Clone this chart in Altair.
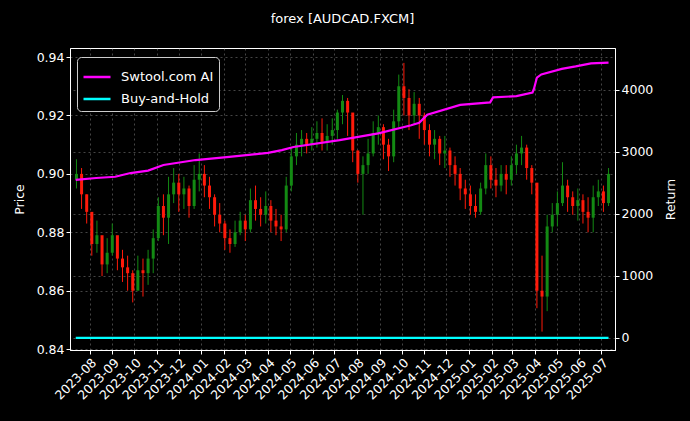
import altair as alt
import pandas as pd
import altair.utils.html as _ah

# Weekly candles (close, high, low)
week_start = "2023-07-14"
closes = [0.900, 0.893, 0.887, 0.876, 0.879, 0.869, 0.873, 0.879, 0.871, 0.868,
          0.866, 0.860, 0.867, 0.866, 0.871, 0.878, 0.889, 0.885, 0.893, 0.897,
          0.893, 0.895, 0.889, 0.898, 0.900, 0.896, 0.892, 0.886, 0.883, 0.878,
          0.876, 0.880, 0.884, 0.881, 0.891, 0.888, 0.886, 0.889, 0.884, 0.882,
          0.881, 0.896, 0.906, 0.910, 0.912, 0.910, 0.912, 0.914, 0.911, 0.913,
          0.915, 0.921, 0.925, 0.921, 0.908, 0.900, 0.903, 0.907, 0.914, 0.916,
          0.910, 0.906, 0.918, 0.930, 0.926, 0.920, 0.924, 0.920, 0.915, 0.910,
          0.912, 0.907, 0.908, 0.903, 0.900, 0.895, 0.893, 0.889, 0.887, 0.895,
          0.903, 0.898, 0.896, 0.900, 0.898, 0.903, 0.907, 0.909, 0.902, 0.897,
          0.860, 0.858, 0.882, 0.886, 0.890, 0.896, 0.892, 0.889, 0.891, 0.887,
          0.885, 0.892, 0.894, 0.890, 0.900]
highs = [0.905, 0.902, 0.893, 0.884, 0.884, 0.877, 0.878, 0.883, 0.877, 0.874,
         0.872, 0.867, 0.872, 0.871, 0.874, 0.881, 0.892, 0.893, 0.899, 0.902,
         0.900, 0.899, 0.896, 0.903, 0.907, 0.903, 0.899, 0.893, 0.890, 0.884,
         0.881, 0.884, 0.887, 0.886, 0.895, 0.896, 0.892, 0.894, 0.891, 0.888,
         0.886, 0.899, 0.909, 0.914, 0.915, 0.914, 0.916, 0.918, 0.919, 0.917,
         0.919, 0.922, 0.927, 0.926, 0.916, 0.908, 0.906, 0.912, 0.918, 0.920,
         0.917, 0.912, 0.922, 0.934, 0.938, 0.929, 0.928, 0.926, 0.921, 0.917,
         0.915, 0.913, 0.913, 0.909, 0.906, 0.902, 0.898, 0.896, 0.893, 0.897,
         0.907, 0.906, 0.902, 0.903, 0.903, 0.906, 0.910, 0.913, 0.910, 0.903,
         0.896, 0.872, 0.886, 0.890, 0.894, 0.904, 0.898, 0.894, 0.895, 0.893,
         0.892, 0.896, 0.898, 0.896, 0.902]
lows = [0.895, 0.888, 0.883, 0.872, 0.873, 0.865, 0.866, 0.872, 0.867, 0.863,
        0.860, 0.856, 0.861, 0.858, 0.862, 0.866, 0.877, 0.879, 0.876, 0.890,
        0.887, 0.888, 0.885, 0.888, 0.894, 0.892, 0.888, 0.882, 0.880, 0.874,
        0.873, 0.875, 0.879, 0.877, 0.880, 0.884, 0.882, 0.883, 0.880, 0.879,
        0.877, 0.880, 0.894, 0.903, 0.906, 0.907, 0.908, 0.909, 0.908, 0.908,
        0.910, 0.912, 0.917, 0.913, 0.904, 0.897, 0.886, 0.900, 0.906, 0.910,
        0.905, 0.901, 0.904, 0.916, 0.920, 0.915, 0.917, 0.912, 0.910, 0.906,
        0.905, 0.903, 0.902, 0.899, 0.896, 0.891, 0.888, 0.886, 0.885, 0.886,
        0.893, 0.895, 0.892, 0.894, 0.893, 0.896, 0.900, 0.903, 0.898, 0.893,
        0.854, 0.846, 0.853, 0.880, 0.882, 0.889, 0.887, 0.886, 0.884, 0.883,
        0.880, 0.880, 0.889, 0.887, 0.889]
first_open = 0.898

# Strategy return curve
ret_dates = ["2023-07-13", "2023-08-10", "2023-09-05", "2023-09-26", "2023-10-20",
             "2023-11-10", "2023-12-24", "2024-02-08", "2024-04-01", "2024-04-20",
             "2024-05-06", "2024-07-08", "2024-08-30", "2024-10-14", "2024-10-25",
             "2024-11-05", "2024-12-20", "2025-01-30", "2025-02-03", "2025-03-07",
             "2025-03-29", "2025-03-31", "2025-04-04", "2025-04-10", "2025-05-08",
             "2025-05-27", "2025-06-17", "2025-07-11"]
ret_ai = [2550, 2580, 2600, 2660, 2700, 2790, 2870, 2920, 2985, 3030,
          3080, 3190, 3300, 3430, 3470, 3600, 3760, 3800, 3880, 3900,
          3960, 4020, 4200, 4250, 4340, 4380, 4430, 4440]
bh_dates = ["2023-07-13", "2025-07-11"]
ret_bh = [0, 0]

month_ticks = ["2023-08", "2023-09", "2023-10", "2023-11", "2023-12", "2024-01",
               "2024-02", "2024-03", "2024-04", "2024-05", "2024-06", "2024-07",
               "2024-08", "2024-09", "2024-10", "2024-11", "2024-12", "2025-01",
               "2025-02", "2025-03", "2025-04", "2025-05", "2025-06", "2025-07"]

# black page behind the chart (the reference figure is black edge to edge)
class _BlackPage:
    def __init__(self, inner):
        self.inner = inner

    def render(self, *args, **kwargs):
        html = self.inner.render(*args, **kwargs)
        return html.replace("<head>", "<head><style>body{background:#000000;}</style>", 1)

try:
    for _k in list(_ah.TEMPLATES.keys()):
        _ah.TEMPLATES[_k] = _BlackPage(_ah.TEMPLATES[_k])
except Exception:
    pass

dates = pd.date_range(week_start, periods=len(closes), freq="7D")
opens = [first_open] + closes[:-1]
candles = pd.DataFrame({"date": dates, "open": opens, "close": closes,
                        "high": highs, "low": lows})

lines = pd.concat([
    pd.DataFrame({"date": pd.to_datetime(ret_dates), "ret": ret_ai, "series": "Swtool.com AI"}),
    pd.DataFrame({"date": pd.to_datetime(bh_dates), "ret": ret_bh, "series": "Buy-and-Hold"}),
])

FONT = "DejaVu Sans"
GRID = dict(grid=True, gridDash=[2, 3], gridColor="#9a9a9a", gridOpacity=0.45)
xdom = [pd.Timestamp("2023-07-12").isoformat(), pd.Timestamp("2025-07-13").isoformat()]
tick_vals = [pd.Timestamp(m + "-01").isoformat() for m in month_ticks]

x_axis = alt.Axis(values=tick_vals, format="%Y-%m", labelAngle=-45,
                  labelAlign="right", labelBaseline="top", title=None,
                  labelOverlap=False, labelFontSize=12.5, labelPadding=2, **GRID)
x_scale = alt.Scale(domain=xdom, nice=False)
xenc = alt.X("date:T", scale=x_scale, axis=x_axis)

price_scale = alt.Scale(domain=[0.8397, 0.9431], nice=False, zero=False)
price_axis = alt.Axis(values=[0.84, 0.86, 0.88, 0.90, 0.92, 0.94], format=".2f",
                      title="Price", labelFontSize=12.5, titleFontSize=12.5,
                      titleFontWeight="normal", titlePadding=10, **GRID)

candle_color = alt.condition("datum.close >= datum.open", alt.value("#138a13"), alt.value("#ff1a0a"))

base = alt.Chart(candles)
wicks = base.mark_rule(strokeWidth=1).encode(
    x=xenc,
    y=alt.Y("low:Q", scale=price_scale, axis=price_axis),
    y2="high:Q",
    color=candle_color,
)
bodies = base.mark_bar(size=3).encode(
    x=xenc,
    y=alt.Y("open:Q", scale=price_scale, axis=price_axis),
    y2="close:Q",
    color=candle_color,
)
price_layer = alt.layer(wicks, bodies)

ret_lines = alt.Chart(lines).mark_line(strokeWidth=2.2).encode(
    x=xenc,
    y=alt.Y("ret:Q", scale=alt.Scale(domain=[-194, 4677], nice=False, zero=False),
            axis=alt.Axis(orient="right", values=[0, 1000, 2000, 3000, 4000], format="d",
                          title="Return", titleAngle=270, titleBaseline="top",
                          labelFontSize=12.5, titleFontSize=12.5,
                          titleFontWeight="normal", titlePadding=12, **GRID)),
    color=alt.Color("series:N",
                    scale=alt.Scale(domain=["Swtool.com AI", "Buy-and-Hold"],
                                    range=["#ff00ff", "#00ffff"]),
                    legend=alt.Legend(title=None, orient="none", legendX=7, legendY=9,
                                      fillColor="#000000", strokeColor="#cccccc",
                                      cornerRadius=4, padding=5, symbolType="stroke",
                                      symbolStrokeWidth=2.5, symbolSize=729,
                                      labelOffset=9, labelFontSize=13,
                                      labelColor="white", rowPadding=-6)),
    order="date:T",
)

chart = alt.layer(price_layer, ret_lines).resolve_scale(y="independent").properties(
    width=545, height=302,
    title=alt.TitleParams("forex [AUDCAD.FXCM]", anchor="middle", fontSize=13,
                          fontWeight="normal", color="white", font=FONT, offset=22),
    padding={"left": 62, "top": 40, "right": 67, "bottom": 63},
    autosize=alt.AutoSizeParams(type="none"),
    background="#000000",
).configure_view(
    stroke="white", strokeWidth=1, fill="#000000"
).configure_axis(
    labelColor="white", titleColor="white", domainColor="white", tickColor="white",
    labelFont=FONT, titleFont=FONT, domain=True, ticks=True, tickSize=4,
).configure_axisX(
    labelOverlap=False,
).configure_legend(
    labelFont=FONT,
)

chart.save("out.html", embed_options={"renderer": "svg", "actions": False})
